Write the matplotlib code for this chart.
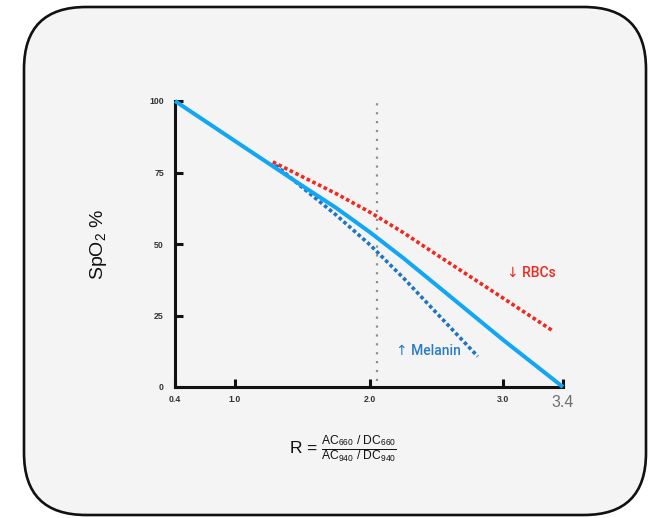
import numpy as np
import matplotlib
matplotlib.use("Agg")
import matplotlib.pyplot as plt
from matplotlib.patches import FancyBboxPatch
from matplotlib.transforms import IdentityTransform

plt.rcParams['font.family'] = ['Liberation Sans', 'DejaVu Sans']
plt.rcParams['mathtext.fontset'] = 'custom'
plt.rcParams['mathtext.rm'] = 'Liberation Sans'
plt.rcParams['mathtext.it'] = 'Liberation Sans'
plt.rcParams['mathtext.bf'] = 'Liberation Sans:bold'
plt.rcParams['mathtext.sf'] = 'Liberation Sans'

# ---- data ----
x_ticks = [0.4, 1.0, 2.0, 3.0, 3.4]
x_tick_labels = ["0.4", "1.0", "2.0", "3.0", "3.4"]
y_ticks = [0, 25, 50, 75, 100]

base_R = [0.4, 1.0, 1.5, 1.75, 2.0, 2.25, 2.5, 3.0, 3.4]
base_spo2 = [100, 86.0, 70.3, 62.6, 54.1, 45.1, 35.6, 16.5, 0]

rbc_R = [1.28, 1.5, 1.75, 2.0, 2.25, 2.5, 3.0, 3.33]
rbc_spo2 = [78.7, 73.5, 67.6, 61.1, 54.0, 46.3, 31.1, 19.7]

mel_R = [1.3, 1.5, 1.75, 2.0, 2.25, 2.5, 2.81]
mel_spo2 = [77.6, 69.7, 60.1, 49.7, 38.2, 25.9, 10.7]

vline_R = 2.05

# axis position knots (non-uniform scale as in the reference)
scale_R = [0.4, 1.0, 2.0, 3.0, 3.4]
scale_pos = [0, 60, 195, 328, 388]

def fwd(x):
    return np.interp(x, scale_R, scale_pos)

def inv(p):
    return np.interp(p, scale_pos, scale_R)

W, H = 648, 518
fig = plt.figure(figsize=(W / 100, H / 100), dpi=100)
fig.patch.set_facecolor('white')

box = FancyBboxPatch((24, 3), 622, 508,
                     boxstyle="round,pad=0,rounding_size=62",
                     transform=IdentityTransform(),
                     facecolor='#f4f4f4', edgecolor='#111111', linewidth=1.9,
                     zorder=-5)
fig.patches.append(box)

ax = fig.add_axes([175 / W, 1 - 387 / H, 388 / W, 286 / H])
ax.set_zorder(5)
ax.set_facecolor('none')
ax.set_xscale('function', functions=(fwd, inv))
ax.set_xlim(0.4, 3.4)
ax.set_ylim(0, 100)

for s in ['top', 'right']:
    ax.spines[s].set_visible(False)
for s in ['left', 'bottom']:
    ax.spines[s].set_linewidth(2.2)
    ax.spines[s].set_color('#111111')
    ax.spines[s].set_capstyle('projecting')

ax.set_xticks(x_ticks)
ax.set_xticklabels(x_tick_labels)
ax.set_yticks(y_ticks)
ax.set_yticklabels([str(v) for v in y_ticks])
ax.minorticks_off()
ax.tick_params(axis='both', direction='in', length=5.5, width=2.2,
               color='#111111', labelsize=6.3, labelcolor='#333333')
ax.tick_params(axis='y', pad=8)
ax.tick_params(axis='x', pad=6)
for lab in ax.get_xticklabels() + ax.get_yticklabels():
    lab.set_fontweight('bold')
last = ax.get_xticklabels()[-1]
last.set_fontsize(11.5)
last.set_fontweight('normal')
last.set_color('#6f6f6f')

# vertical reference line
ax.plot([vline_R, vline_R], [2, 100], color='#8f8f8f', linewidth=1.6,
        linestyle=(0, (1, 3.0)), zorder=2)

# curves
ax.plot(rbc_R, rbc_spo2, color='#f0281e', linewidth=2.6,
        linestyle=(0, (1, 0.75)), zorder=3)
ax.plot(mel_R, mel_spo2, color='#1f74c4', linewidth=2.6,
        linestyle=(0, (1, 0.75)), zorder=3)
ax.plot(base_R, base_spo2, color='#12a6f4', linewidth=2.9,
        solid_capstyle='butt', solid_joinstyle='round', zorder=4, clip_on=False)

ax.text(3.19, 40, "\u2193 RBCs", color='#f0281e', fontsize=10,
        family=['Roboto', 'DejaVu Sans'], fontweight='medium',
        ha='center', va='center')
ax.text(2.44, 12.6, "\u2191 Melanin", color='#2a7cc7', fontsize=10,
        family=['Roboto', 'DejaVu Sans'], fontweight='medium',
        ha='center', va='center')

ax.set_ylabel("SpO$_2$ %", fontsize=14, color='#111111')
ax.yaxis.set_label_coords(-0.17, 0.5)

ax.set_xlabel(r"R = $\frac{AC_{660}\ /\ DC_{660}}{AC_{940}\ /\ DC_{940}}$",
              fontsize=12.5, color='#111111')
ax.xaxis.set_label_coords(0.432, -0.165)

fig.savefig("out.png", dpi=100)
